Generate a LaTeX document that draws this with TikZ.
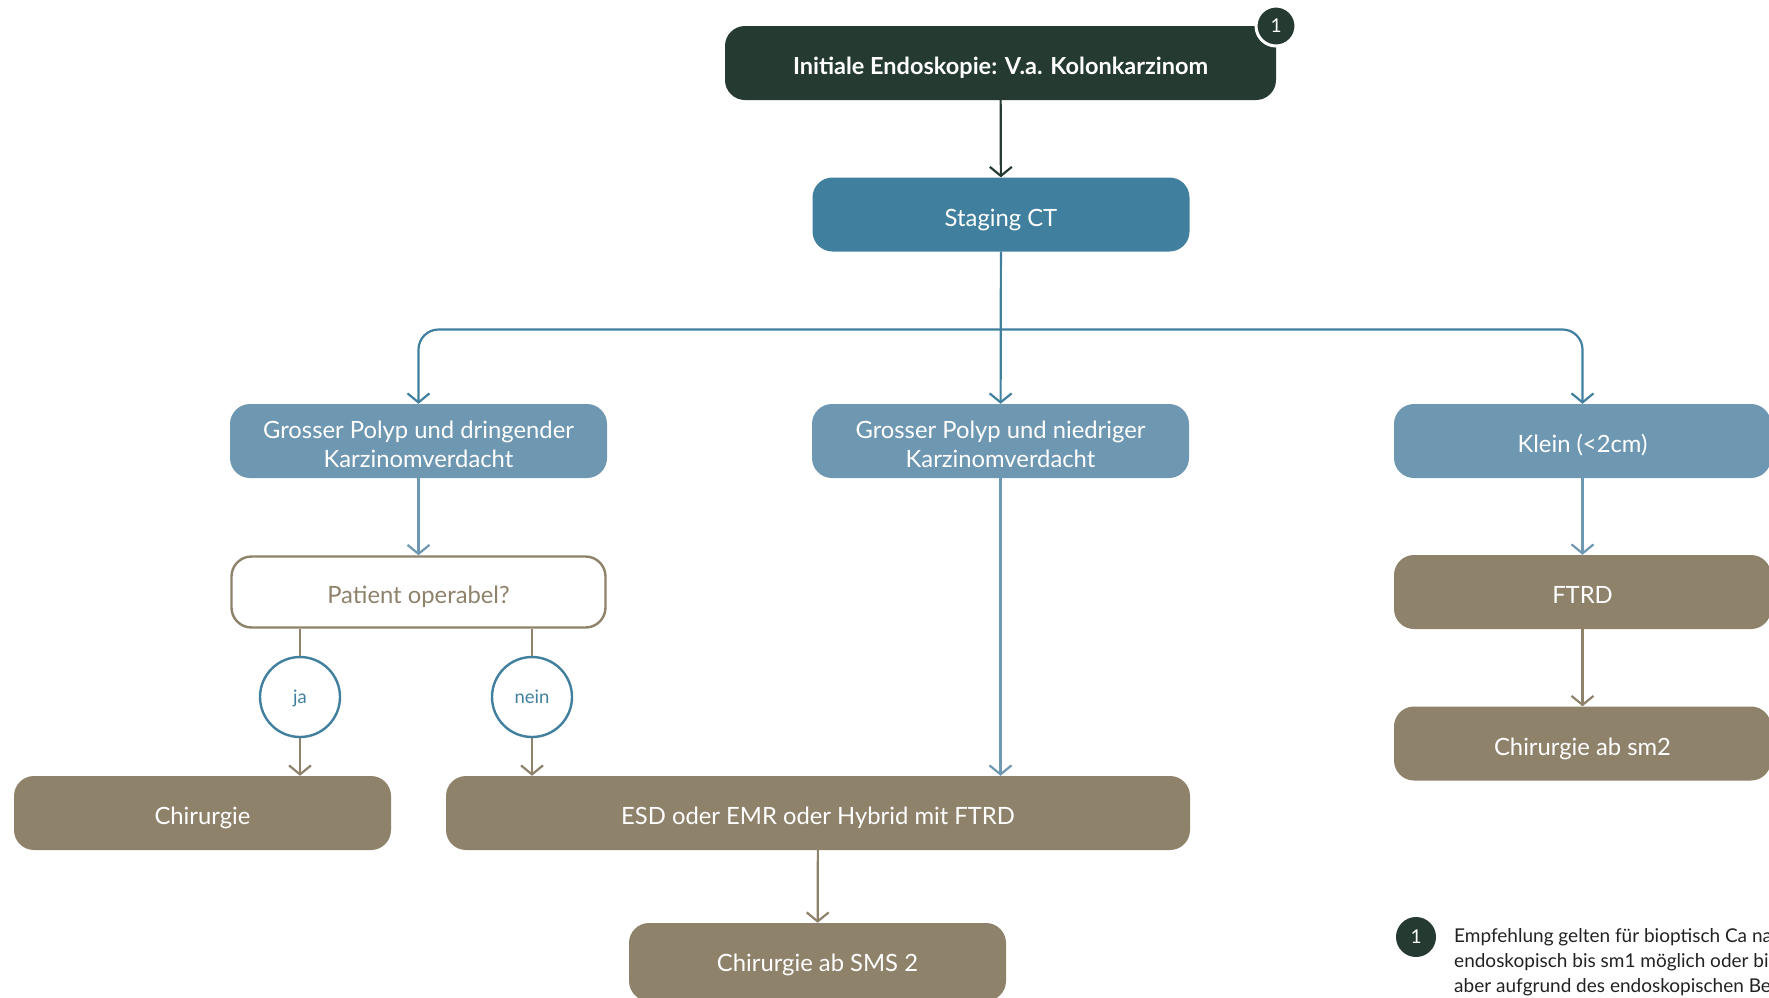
\documentclass[tikz,border=0pt]{standalone}
\usepackage{fontspec}
\setmainfont{Lato}
\usetikzlibrary{arrows.meta}
\definecolor{dgreen}{HTML}{253B32}
\definecolor{sblue}{HTML}{40809E}
\definecolor{lblue}{HTML}{6E97B2}
\definecolor{brownish}{HTML}{8E826B}
\definecolor{ftext}{HTML}{222222}
% centred lines of box text, lowered a little while keeping the box size
\newcommand\boxtxt[2][6pt]{\raisebox{-#1}[\height][\depth]{%
  \begin{tabular}{@{}c@{}}#2\end{tabular}}}
\tikzset{
  box/.style={rounded corners=20pt, minimum width=377pt, minimum height=74pt,
    inner sep=0pt, text=white, font=\fontsize{23.8}{29}\selectfont},
  topbox/.style={box, fill=dgreen, minimum width=551pt, font=\bfseries\fontsize{23.5}{29}\selectfont},
  stagebox/.style={box, fill=sblue},
  bluebox/.style={box, fill=lblue},
  brownbox/.style={box, fill=brownish},
  askbox/.style={box, fill=white, draw=brownish, line width=2.4pt, text=brownish},
  answer/.style={circle, draw=sblue, fill=white, line width=2.4pt, minimum size=80pt,
    inner sep=0pt, text=sblue, font=\fontsize{18.5}{20}\selectfont},
  badge/.style={circle, fill=dgreen, minimum size=40pt, inner sep=0pt, text=white,
    font=\fontsize{19}{20}\selectfont},
  tip/.style={-{Straight Barb[length=9pt,width=22pt,line width=2.2pt]}},
  link/.style={line width=2.2pt},
}
\begin{document}
\begin{tikzpicture}[x=1pt,y=-1pt]
\useasboundingbox (0,0) rectangle (1769,997);

% main column
\node[topbox] (init) at (1000.5,63) {\boxtxt{Initiale Endoskopie: V.a. Kolonkarzinom}};
\node[badge, draw=white, line width=3pt] (b1) at (1276,26) {1};
\node[stagebox] (ct) at (1001,214.5) {\boxtxt{Staging CT}};

% second row
\node[bluebox] (gd) at (418.5,441) {\boxtxt{Grosser Polyp und dringender\\Karzinomverdacht}};
\node[bluebox] (gn) at (1000.5,441) {\boxtxt{Grosser Polyp und niedriger\\Karzinomverdacht}};
\node[bluebox] (kl) at (1582.5,441) {\boxtxt{Klein (<2cm)}};

% left branch
\node[askbox, minimum width=374pt, minimum height=71pt] (op) at (418.5,592) {\boxtxt{Patient operabel?}};
\node[answer] (ja) at (300,697) {\boxtxt[2pt]{ja}};
\node[answer] (nein) at (532,697) {\boxtxt[2pt]{nein}};
\node[brownbox] (chir) at (202.5,813) {\boxtxt{Chirurgie}};
\node[brownbox, minimum width=744pt] (esd) at (818,813) {\boxtxt{ESD oder EMR oder Hybrid mit FTRD}};
\node[brownbox, minimum height=78pt] (sms) at (817.5,962) {\boxtxt[4pt]{Chirurgie ab SMS 2}};

% right branch
\node[brownbox] (ftrd) at (1582.5,592) {\boxtxt{FTRD}};
\node[brownbox] (sm2) at (1582.5,743.5) {\boxtxt{Chirurgie ab sm2}};

% connectors: the fork under Staging CT
\coordinate (fork) at (1000.5,329.5);
\draw[link, tip, dgreen] (init) -- (ct);
\draw[link, tip, sblue] (ct) -- (gn);
\draw[link, tip, sblue, rounded corners=20pt] (fork) -| (gd.north);
\draw[link, tip, sblue, rounded corners=20pt] (fork) -| (kl.north);
\draw[link, tip, lblue] (gd) -- (op);
\draw[link, tip, lblue] (gn.south) -- (esd.north -| gn.south);
\draw[link, tip, lblue] (kl) -- (ftrd);
\draw[link, tip, brownish] (ftrd) -- (sm2);
\draw[link, brownish] (op.south -| ja) -- (ja);
\draw[link, brownish] (op.south -| nein) -- (nein);
\draw[link, tip, brownish] (ja) -- (chir.north -| ja);
\draw[link, tip, brownish] (nein) -- (esd.north -| nein);
\draw[link, tip, brownish] (esd) -- (sms);

% footnote
\node[badge] (b2) at (1416,937) {1};
\node[anchor=north west, align=left, inner sep=0pt, text=ftext,
  font=\fontsize{19}{25.3}\selectfont] (note) at (1454,928)
  {Empfehlung gelten für bioptisch Ca nach\\
   endoskopisch bis sm1 möglich oder bioptisch\\
   aber aufgrund des endoskopischen Befundes};
\end{tikzpicture}
\end{document}
